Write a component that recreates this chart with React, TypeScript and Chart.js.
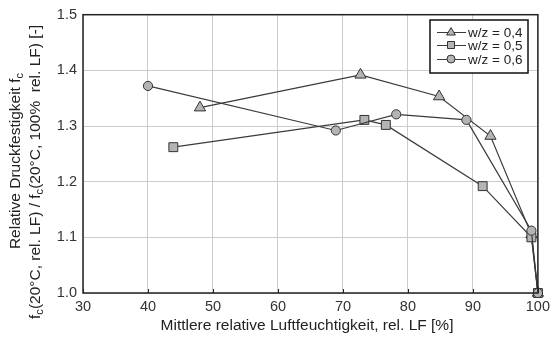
import React, { useEffect, useRef } from "react";
import { Chart, registerables } from "chart.js";

Chart.register(...registerables);

const seriesLabels = ["w/z = 0,4", "w/z = 0,5", "w/z = 0,6"];
const x04 = [48, 72.7, 84.8, 92.7, 99, 100];
const y04 = [1.333, 1.392, 1.353, 1.282, 1.105, 1.0];
const x05 = [43.9, 73.3, 76.6, 91.5, 99, 100];
const y05 = [1.262, 1.311, 1.302, 1.192, 1.1, 1.0];
const x06 = [40, 68.9, 78.2, 89, 99, 100];
const y06 = [1.372, 1.292, 1.321, 1.311, 1.112, 1.0];
const xTicks = [30, 40, 50, 60, 70, 80, 90, 100];
const yTicks = [1.0, 1.1, 1.2, 1.3, 1.4, 1.5];
const xTitle = "Mittlere relative Luftfeuchtigkeit, rel. LF [%]";
const yTitle1: [string, boolean][] = [["Relative Druckfestigkeit f", false], ["c", true]];
const yTitle2: [string, boolean][] = [
  ["f", false], ["c", true], ["(20°C, rel. LF) / f", false], ["c", true], ["(20°C, 100%  rel. LF) [-]", false],
];

const FONT = "'Liberation Sans', Arial, sans-serif";
const MARK_FILL = "#b4b4b4";
const MARK_STROKE = "#333333";
const LINE = "#3a3a3a";
const pointStyles = ["triangle", "rect", "circle"];
const pointRadii = [6.5, 6.3, 4.6];
const drawOrder = [2, 1, 0];

const toPts = (xs: number[], ys: number[]) => xs.map((x, i) => ({ x, y: ys[i] }));

export default function App() {
  const ref = useRef<HTMLCanvasElement>(null);
  useEffect(() => {
    document.body.style.margin = "0";
    const canvas = ref.current!;
    const drawRich = (ctx: CanvasRenderingContext2D, segs: [string, boolean][], size: number) => {
      const fontN = `${size}px ${FONT}`;
      const fontS = `${size * 0.72}px ${FONT}`;
      let total = 0;
      for (const [t, sub] of segs) {
        ctx.font = sub ? fontS : fontN;
        total += ctx.measureText(t).width;
      }
      let x = -total / 2;
      for (const [t, sub] of segs) {
        ctx.font = sub ? fontS : fontN;
        ctx.fillText(t, x, sub ? 4 : 0);
        x += ctx.measureText(t).width;
      }
    };
    const drawMarker = (ctx: CanvasRenderingContext2D, style: string, x: number, y: number, r: number) => {
      ctx.beginPath();
      if (style === "circle") ctx.arc(x, y, r, 0, Math.PI * 2);
      else if (style === "rect") ctx.rect(x - r, y - r, 2 * r, 2 * r);
      else {
        ctx.moveTo(x, y - r * 1.1);
        ctx.lineTo(x + r * 1.1, y + r * 0.75);
        ctx.lineTo(x - r * 1.1, y + r * 0.75);
        ctx.closePath();
      }
      ctx.fillStyle = MARK_FILL;
      ctx.fill();
      ctx.strokeStyle = MARK_STROKE;
      ctx.lineWidth = 1;
      ctx.stroke();
    };
    const deco = {
      id: "deco",
      afterDraw(chart: any) {
        const ctx: CanvasRenderingContext2D = chart.ctx;
        const a = chart.chartArea;
        const xs = chart.scales.x;
        ctx.save();
        ctx.strokeStyle = "#222";
        ctx.lineWidth = 1;
        for (const v of xTicks) {
          const px = Math.round(xs.getPixelForValue(v)) + 0.5;
          ctx.beginPath();
          ctx.moveTo(px, a.bottom);
          ctx.lineTo(px, a.bottom - 4);
          ctx.stroke();
        }
        ctx.strokeStyle = "#222";
        ctx.lineWidth = 1.5;
        ctx.strokeRect(a.left, a.top, a.right - a.left, a.bottom - a.top);
        ctx.fillStyle = "#222";
        ctx.font = `15.5px ${FONT}`;
        ctx.textAlign = "center";
        ctx.textBaseline = "middle";
        ctx.fillText(xTitle, 307, 326);
        ctx.textAlign = "left";
        ctx.save();
        ctx.translate(16, 161);
        ctx.rotate(-Math.PI / 2);
        drawRich(ctx, yTitle1, 15.5);
        ctx.restore();
        ctx.save();
        ctx.translate(36, 172);
        ctx.rotate(-Math.PI / 2);
        drawRich(ctx, yTitle2, 15.5);
        ctx.restore();
        const lx = 430, ly = 20, lw = 98, lh = 53;
        ctx.fillStyle = "#fff";
        ctx.fillRect(lx, ly, lw, lh);
        ctx.strokeStyle = "#111";
        ctx.lineWidth = 1.5;
        ctx.strokeRect(lx, ly, lw, lh);
        const rows = [32, 45, 59];
        seriesLabels.forEach((lab, i) => {
          const yy = rows[i];
          ctx.strokeStyle = LINE;
          ctx.lineWidth = 1;
          ctx.beginPath();
          ctx.moveTo(437, yy + 0.5);
          ctx.lineTo(466, yy + 0.5);
          ctx.stroke();
          drawMarker(ctx, pointStyles[i], 451, yy, i === 1 ? 3.5 : 4);
          ctx.fillStyle = "#222";
          ctx.font = `13.5px ${FONT}`;
          ctx.textAlign = "left";
          ctx.textBaseline = "middle";
          ctx.fillText(lab, 468, yy + 1);
        });
        ctx.restore();
      },
    };
    const mk = (i: number, pts: { x: number; y: number }[]) => ({
      label: seriesLabels[i],
      data: pts,
      order: drawOrder[i],
      showLine: true,
      clip: false,
      borderColor: LINE,
      borderWidth: 1.2,
      pointStyle: pointStyles[i],
      pointRadius: pointRadii[i],
      pointBackgroundColor: MARK_FILL,
      pointBorderColor: MARK_STROKE,
      pointBorderWidth: 1,
    });
    const chart = new Chart(canvas, {
      type: "scatter",
      data: {
        datasets: [mk(0, toPts(x04, y04)), mk(1, toPts(x05, y05)), mk(2, toPts(x06, y06))],
      },
      options: {
        animation: false,
        responsive: false,
        devicePixelRatio: 1,
        layout: { padding: { left: 0, right: 12, top: 13, bottom: 0 } },
        plugins: { legend: { display: false }, tooltip: { enabled: false } },
        scales: {
          x: {
            type: "linear",
            min: 30,
            max: 100,
            afterBuildTicks: (s: any) => { s.ticks = xTicks.map((v) => ({ value: v })); },
            afterFit: (s: any) => { s.height = 45; },
            grid: { color: "#cccccc", lineWidth: 1, drawTicks: false },
            border: { display: false },
            ticks: { color: "#333", font: { family: FONT, size: 14.5 }, padding: 5, maxRotation: 0 },
          },
          y: {
            type: "linear",
            min: 1.0,
            max: 1.5,
            afterBuildTicks: (s: any) => { s.ticks = yTicks.map((v) => ({ value: v })); },
            afterFit: (s: any) => { s.width = 83; },
            grid: { color: "#cccccc", lineWidth: 1, drawTicks: false },
            border: { display: false },
            ticks: {
              color: "#333",
              font: { family: FONT, size: 14.5 },
              padding: 6,
              callback: (v: any) => Number(v).toFixed(1),
            },
          },
        },
      },
      plugins: [deco],
    } as any);
    return () => chart.destroy();
  }, []);
  return <canvas ref={ref} width={555} height={338} style={{ display: "block", width: 555, height: 338 }} />;
}
